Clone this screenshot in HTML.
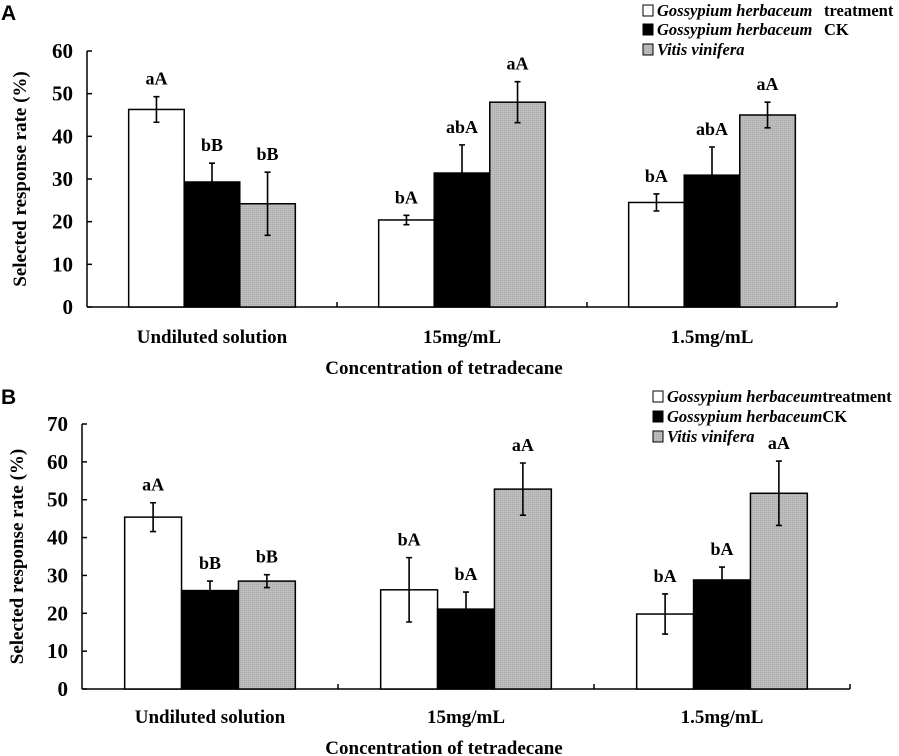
<!DOCTYPE html>
<html><head><meta charset="utf-8"><style>
body{margin:0;background:#fff}
svg{display:block}
text{font-family:"Liberation Serif",serif;font-weight:bold;fill:#000}
</style></head><body>
<svg id="chart" width="899" height="756" xmlns="http://www.w3.org/2000/svg">
<defs><pattern id="dots" width="2" height="2" patternUnits="userSpaceOnUse"><rect width="2" height="2" fill="#bdbdbd"/><rect width="1" height="1" fill="#a8a8a8"/></pattern></defs>
<text x="1" y="20" style="font-family:'Liberation Sans',sans-serif;font-size:21px">A</text>
<text x="1" y="404" style="font-family:'Liberation Sans',sans-serif;font-size:21px">B</text>
<g>
<rect x="643" y="5" width="10" height="11" fill="#fff" stroke="#000"/>
<text x="657" y="16" font-size="16.5" font-style="italic">Gossypium herbaceum</text>
<text x="824" y="16" font-size="16.5">treatment</text>
<rect x="643" y="24" width="10" height="11" fill="#000" stroke="#000"/>
<text x="657" y="35" font-size="16.5" font-style="italic">Gossypium herbaceum</text>
<text x="824" y="35" font-size="16.5">CK</text>
<rect x="643" y="44" width="10" height="11" fill="url(#dots)" stroke="#000"/>
<text x="657" y="55" font-size="16.5" font-style="italic">Vitis vinifera</text>
</g>
<g>
<rect x="653" y="391" width="10" height="11" fill="#fff" stroke="#000"/>
<text x="667" y="402" font-size="16.5"><tspan font-style="italic">Gossypium herbaceum</tspan>treatment</text>
<rect x="653" y="411" width="10" height="11" fill="#000" stroke="#000"/>
<text x="667" y="422" font-size="16.5"><tspan font-style="italic">Gossypium herbaceum</tspan>CK</text>
<rect x="653" y="431" width="10" height="11" fill="url(#dots)" stroke="#000"/>
<text x="667" y="442" font-size="16.5" font-style="italic">Vitis vinifera</text>
</g>
</svg>
<script>
const categories = ["Undiluted solution", "15mg/mL", "1.5mg/mL"];
const seriesNames = ["treatment", "ck", "vitis"];
const aValues = [[46.3, 20.4, 24.5], [29.3, 31.4, 30.9], [24.2, 48.0, 45.0]];
const aErrors = [[3.0, 1.1, 2.0], [4.4, 6.6, 6.6], [7.4, 4.8, 3.0]];
const aLetters = [["aA", "bA", "bA"], ["bB", "abA", "abA"], ["bB", "aA", "aA"]];
const aTicks = [0, 10, 20, 30, 40, 50, 60];
const bValues = [[45.4, 26.2, 19.8], [26.0, 21.1, 28.8], [28.5, 52.8, 51.7]];
const bErrors = [[3.8, 8.5, 5.3], [2.5, 4.5, 3.4], [1.7, 6.9, 8.5]];
const bLetters = [["aA", "bA", "bA"], ["bB", "bA", "bA"], ["bB", "aA", "aA"]];
const bTicks = [0, 10, 20, 30, 40, 50, 60, 70];

const svg = document.getElementById('chart');
const NS = 'http://www.w3.org/2000/svg';
function el(tag, attrs, parent) {
  const e = document.createElementNS(NS, tag);
  for (const k in attrs) e.setAttribute(k, attrs[k]);
  parent.appendChild(e);
  return e;
}
const fills = ["#fff", "#000", "url(#dots)"];

function panel(p, values, errors, letters, ticks) {
  const g = el('g', {}, svg);
  
  
  const yMax = ticks[ticks.length - 1];
  const y = v => p.y0 - (v / yMax) * (p.y0 - p.yTop);
  const catW = (p.x1 - p.x0) / categories.length;
  const barW = catW / 4.5;
  const bx = (c, s) => p.x0 + c * catW + catW / 2 - 1.5 * barW + s * barW;
  const ya = el('line', {x1: p.x0, y1: p.yTop, x2: p.x0, y2: p.y0, stroke: '#000', 'stroke-width': 1.5}, g);
  
  
  const xa = el('line', {x1: p.x0, y1: p.y0, x2: p.x1, y2: p.y0, stroke: '#000', 'stroke-width': 1.5}, g);
  
  
  ticks.forEach(t => {
    const ln = el('line', {x1: p.x0, y1: y(t), x2: p.x0 + 5, y2: y(t), stroke: '#000', 'stroke-width': 1.5}, g);
    
    
    const tx = el('text', {x: p.x0 - 14, y: y(t) + 7, 'text-anchor': 'end', 'font-size': 21}, g);
    tx.textContent = t;
    
    
  });
  for (let c = 1; c <= categories.length; c++) {
    const xx = p.x0 + c * catW;
    const ln = el('line', {x1: xx, y1: p.y0, x2: xx, y2: p.y0 - 5, stroke: '#000', 'stroke-width': 1.5}, g);
    
    
  }
  categories.forEach((cat, c) => {
    const tx = el('text', {x: p.x0 + c * catW + catW / 2, y: p.catY, 'text-anchor': 'middle', 'font-size': 19}, g);
    tx.textContent = cat;
    
    
    seriesNames.forEach((sn, s) => {
      const v = values[s][c], e = errors[s][c];
      const r = el('rect', {x: bx(c, s), y: y(v), width: barW, height: p.y0 - y(v), fill: fills[s], stroke: '#000', 'stroke-width': 1.5}, g);
      
      
      const cx = bx(c, s) + barW / 2;
      const eb = el('path', {d: `M${cx-3},${y(v+e)}H${cx+3}M${cx},${y(v+e)}V${y(v-e)}M${cx-3},${y(v-e)}H${cx+3}`, stroke: '#000', 'stroke-width': 1.6, fill: 'none'}, g);
      
      
      const lt = el('text', {x: cx, y: y(v + e) - 12, 'text-anchor': 'middle', 'font-size': 18}, g);
      lt.textContent = letters[s][c];
      
      
    });
  });
  const yt = el('text', {x: 0, y: 0, 'text-anchor': 'middle', 'font-size': 19, transform: `translate(${p.ytX},${(p.y0 + p.yTop) / 2}) rotate(-90)`}, g);
  yt.textContent = 'Selected response rate (%)';
  
  
  const xt = el('text', {x: 444, y: p.xtY, 'text-anchor': 'middle', 'font-size': 19, 'xml:space': 'preserve'}, g);
  xt.textContent = 'Concentration of  tetradecane';
  
  
}
panel({name: 'panel-a', x0: 87, x1: 837, y0: 307, yTop: 51, catY: 343, xtY: 374, ytX: 26}, aValues, aErrors, aLetters, aTicks);
panel({name: 'panel-b', x0: 82, x1: 850, y0: 689, yTop: 424, catY: 723, xtY: 754, ytX: 23}, bValues, bErrors, bLetters, bTicks);
</script>
</body></html>
